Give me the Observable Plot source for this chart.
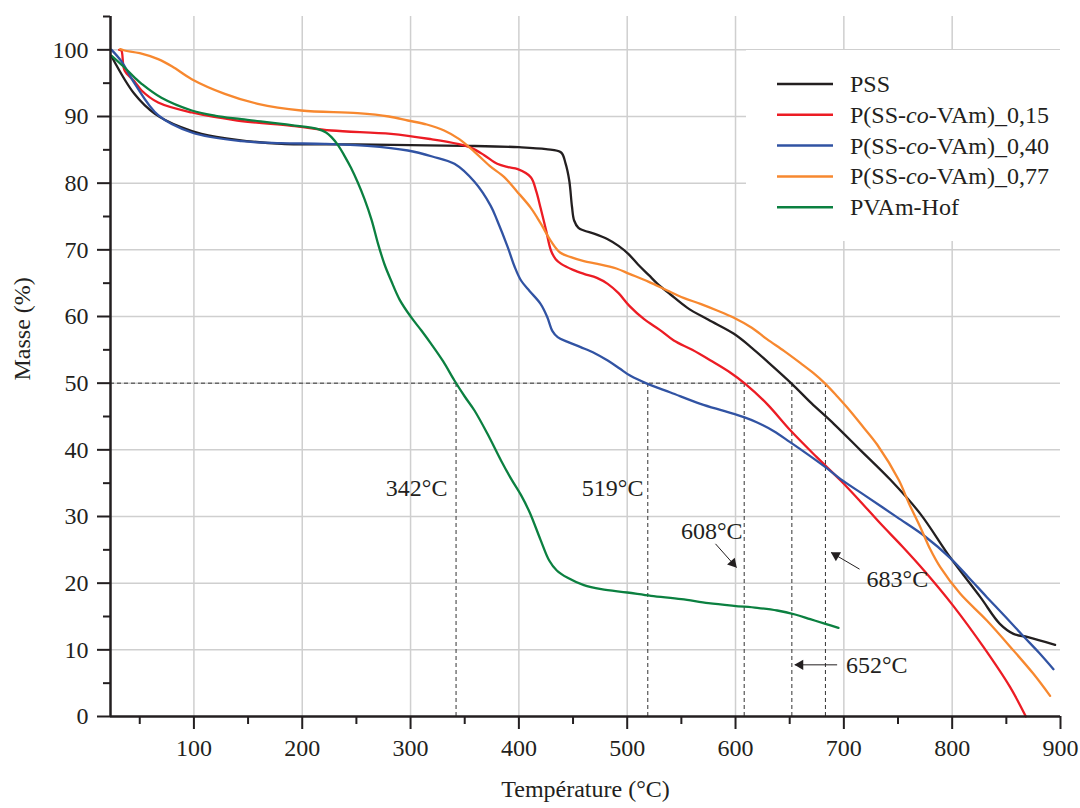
<!DOCTYPE html>
<html><head><meta charset="utf-8">
<script src="https://cdn.jsdelivr.net/npm/d3@7"></script>
<script src="https://cdn.jsdelivr.net/npm/@observablehq/plot@0.6"></script>
<style>
body{margin:0;background:#fff;}
#wrap{position:relative;width:1080px;height:808px;font-family:"Liberation Serif","Times New Roman",serif;}
#legend{position:absolute;left:746px;top:50px;width:314px;height:191px;background:#fff;}
</style></head>
<body><div id="wrap"><div id="chart"></div><div id="legend"></div></div>
<script>
// ---- data (temperature °C, mass %) ----
const PSS = [[24,99.0],[45,93.4],[64,90.4],[88,88.4],[107,87.4],[140,86.5],[181,85.9],[250,85.8],[300,85.7],[350,85.6],[400,85.4],[425,85.1],[439,84.6],[443,83],[446.5,80.4],[449,76.5],[451,74.4],[455,73.3],[460,72.9],[470,72.4],[482,71.6],[492,70.6],[501,69.4],[510,67.8],[520,66.2],[528,64.9],[540,63.3],[555.6,61.3],[575,59.5],[598.5,57.4],[615,55.3],[629,53.3],[652,49.9],[670,47],[690.7,43.9],[715,40],[743,35.5],[770.6,30.4],[798,23.9],[826,17.9],[844,13.9],[856.6,12.4],[870,11.9],[895,10.75]];
const P015 = [[31,100],[33,99.9],[36,96.9],[45,95.3],[51.7,93.9],[67,92.1],[98,90.6],[140,89.4],[190,88.6],[227,87.9],[282,87.4],[319,86.6],[343.5,85.9],[356,85.3],[368,84.2],[380,82.9],[390,82.4],[399,82.1],[411,80.9],[416,78.8],[420,76.3],[425,73],[429.6,69.9],[434,68.6],[439,67.9],[450,67],[460,66.4],[472,65.8],[482,64.9],[492,63.5],[502,61.6],[515.6,59.6],[530,58],[543,56.4],[560,55],[577,53.4],[595,51.6],[609,49.9],[629,46.9],[650.8,42.9],[675,38.9],[697,35.4],[715,32.3],[734,28.9],[754,25.5],[774,21.9],[801,16.6],[829,10.4],[853.5,4.4],[868,0]];
const P040 = [[24,100],[33,98.3],[45.5,94.9],[67,90.2],[98,87.6],[144,86.3],[180,86],[220.6,85.9],[260,85.6],[297.5,84.9],[320,84],[340.5,82.9],[359,80.2],[374,76.6],[380,74.4],[389.7,70.4],[396,67.5],[402,65.4],[410,63.8],[420,61.9],[426,60],[431,57.8],[435.8,56.9],[445,56.2],[457,55.4],[470,54.5],[482,53.4],[493,52.2],[503,51.1],[518.7,49.9],[540,48.6],[567.6,46.9],[590,45.8],[607.7,44.9],[620,44.1],[635.4,42.8],[650,41.2],[666,39.4],[683,37.4],[697,35.6],[720,33.1],[749,29.9],[775,27.0],[798,23.8],[815,20.9],[832,17.9],[850,14.8],[866,12.0],[880,9.6],[893.5,7.1]];
const P077 = [[32,100.1],[36,99.9],[50,99.5],[67,98.6],[80,97.5],[98,95.6],[128.5,93.4],[159,91.9],[199,90.9],[251,90.5],[280,90],[297.5,89.4],[315,88.8],[331,87.9],[345,86.6],[359,84.7],[373,82.6],[386.5,80.9],[398,78.8],[411,76.3],[420,74],[429.6,71.3],[438,69.6],[448,68.9],[460,68.3],[472.6,67.9],[490,67.2],[502,66.4],[520,65.2],[537,63.9],[552,62.8],[567.6,61.9],[583,60.9],[598.5,59.8],[615,58.3],[629,56.6],[645,54.8],[660,53.0],[672,51.5],[683,49.9],[694,48.0],[706,45.8],[718,43.4],[730.7,40.8],[750.6,35.5],[760,32],[770.6,28.4],[780,25],[789,22.4],[807.5,18.4],[832,14.4],[856.6,9.9],[875,6.4],[890.4,3.1]];
const PVAM = [[24,99.1],[35,97.5],[45.5,95.8],[51.7,94.9],[70,92.8],[98,90.9],[120,90.1],[144,89.6],[190,88.7],[214.6,88.1],[222,87.6],[227,86.9],[233,85.7],[239,84.1],[245,82.3],[251,80.2],[257.5,77.6],[264,74.5],[270,70.9],[276,67.8],[282,65.4],[290,62.5],[300.5,59.9],[310,57.9],[319,55.9],[330,53.3],[340.5,50.4],[350,48],[359,45.9],[371,42.4],[383.5,38.4],[393,35.6],[402,33.2],[410,30.6],[420,26.5],[428,23.4],[435,21.9],[445,20.8],[460,19.7],[476,19.1],[500,18.6],[522,18.1],[550,17.6],[575,17],[598.5,16.6],[620,16.3],[638.5,15.9],[655,15.3],[669,14.6],[683,13.9],[695,13.3]];

const seriesNames = ["PSS","P(SS-co-VAm)_0,15","P(SS-co-VAm)_0,40","P(SS-co-VAm)_0,77","PVAm-Hof"];
const seriesData = [PSS, P015, P040, P077, PVAM];
const seriesColors = ["#231f20","#ec1c24","#3153a3","#f7882f","#0b8040"];

const xMajor = [100,200,300,400,500,600,700,800,900];
const xMinor = [50,150,250,350,450,550,650,750,850];
const yMajor = [0,10,20,30,40,50,60,70,80,90,100];
const yMinor = [5,15,25,35,45,55,65,75,85,95,105];

const t50 = [342,519,608,652,683];   // temperatures at 50 % mass
const labelsEnd = [{x:334,y:34.3,t:"342°C"},{x:515,y:34.3,t:"519°C"},{x:606.5,y:27.8,t:"608°C"}];
const labelsStart = [{x:721,y:20.65,t:"683°C"},{x:702,y:7.75,t:"652°C"}];
const arrows = [{x1:581.5,y1:25.9,x2:600.9,y2:22.35},{x1:714.5,y1:22.1,x2:688.3,y2:24.6},{x1:693.8,y1:7.75,x2:654.7,y2:7.75}];

// ---- layout ----
const W=1080,H=808,mL=110,mR=20,mT=16,mB=92;
const xDom=[23,900], yDom=[0,105];
const kx=(W-mL-mR)/(xDom[1]-xDom[0]), ky=(H-mT-mB)/(yDom[1]-yDom[0]);
const heads = arrows.map(a=>{
  const ux=(a.x2-a.x1)*kx, uy=-(a.y2-a.y1)*ky, L=Math.hypot(ux,uy);
  const off=5.5;
  return {x:a.x2-(ux/L)*off/kx, y:a.y2+(uy/L)*off/ky, rot:Math.atan2(ux,-uy)*180/Math.PI};
});

const rows = [];
seriesData.forEach((s,i)=>s.forEach(([t,m])=>rows.push({t,m,s:seriesNames[i]})));

const font='"Liberation Serif","Times New Roman",serif';
const ink="#231f20";
const chart = Plot.plot({
  width:W,height:H,marginLeft:mL,marginRight:mR,marginTop:mT,marginBottom:mB,
  style:{fontFamily:font,fontSize:"24px",background:"#fff",color:ink},
  x:{domain:xDom,axis:null},
  y:{domain:yDom,axis:null},
  color:{domain:seriesNames,range:seriesColors},
  marks:[
    Plot.gridX(xMajor.filter(v=>v<900),{stroke:"#cfcfcf",strokeOpacity:1,strokeWidth:1.5}),
    Plot.gridY(yMajor.filter(v=>v>0),{stroke:"#cfcfcf",strokeOpacity:1,strokeWidth:1.5}),
    Plot.ruleY([50],{x1:xDom[0],x2:683,stroke:"#333",strokeWidth:1,strokeDasharray:"4,3"}),
    Plot.ruleX(t50,{y1:0,y2:50,stroke:"#333",strokeWidth:1,strokeDasharray:"4,3"}),
    Plot.line(rows,{x:"t",y:"m",z:"s",stroke:"s",strokeWidth:2.3,curve:"catmull-rom"}),
    Plot.text(labelsEnd,{x:"x",y:"y",text:"t",textAnchor:"end",fill:ink}),
    Plot.text(labelsStart,{x:"x",y:"y",text:"t",textAnchor:"start",fill:ink}),
    Plot.link(arrows,{x1:"x1",y1:"y1",x2:"x2",y2:"y2",stroke:ink,strokeWidth:1}),
    Plot.dot(heads,{x:"x",y:"y",symbol:"triangle",rotate:"rot",r:3.8,fill:ink,stroke:null}),
    Plot.ruleX([xDom[0]],{stroke:ink,strokeWidth:2.5}),
    Plot.ruleY([0],{stroke:ink,strokeWidth:2.5}),
    Plot.axisX(xMajor,{tickSize:13,tickPadding:9,strokeWidth:2,label:null,fill:ink,stroke:ink}),
    Plot.axisX(xMinor,{tickSize:8,text:null,strokeWidth:2,label:null,stroke:ink}),
    Plot.axisY(yMajor,{tickSize:13,tickPadding:9,strokeWidth:2,label:null,fill:ink,stroke:ink}),
    Plot.axisY(yMinor,{tickSize:7,text:null,strokeWidth:2,label:null,stroke:ink}),
    Plot.text(["Température (°C)"],{text:d=>d,frameAnchor:"bottom",dy:80,fill:ink}),
    Plot.text(["Masse (%)"],{text:d=>d,frameAnchor:"left",dx:-88,dy:14,rotate:-90,fill:ink})
  ]
});
document.getElementById("chart").appendChild(chart);

// ---- legend ----
const lg = d3.select("#legend").append("svg").attr("width",314).attr("height",191)
  .style("font-family",font).style("font-size","24px");
seriesNames.forEach((n,i)=>{
  const y=34+i*30.8;
  lg.append("line").attr("x1",31).attr("x2",87).attr("y1",y).attr("y2",y)
    .attr("stroke",seriesColors[i]).attr("stroke-width",2.5);
  const t=lg.append("text").attr("x",104).attr("y",y+8).attr("fill",ink);
  const m=n.match(/^(P\(SS-)co(-VAm\)_.*)$/);
  if(m){
    t.append("tspan").text(m[1]);
    t.append("tspan").attr("font-style","italic").text("co");
    t.append("tspan").text(m[2]);
  } else t.text(n);
});
</script>
</body></html>
